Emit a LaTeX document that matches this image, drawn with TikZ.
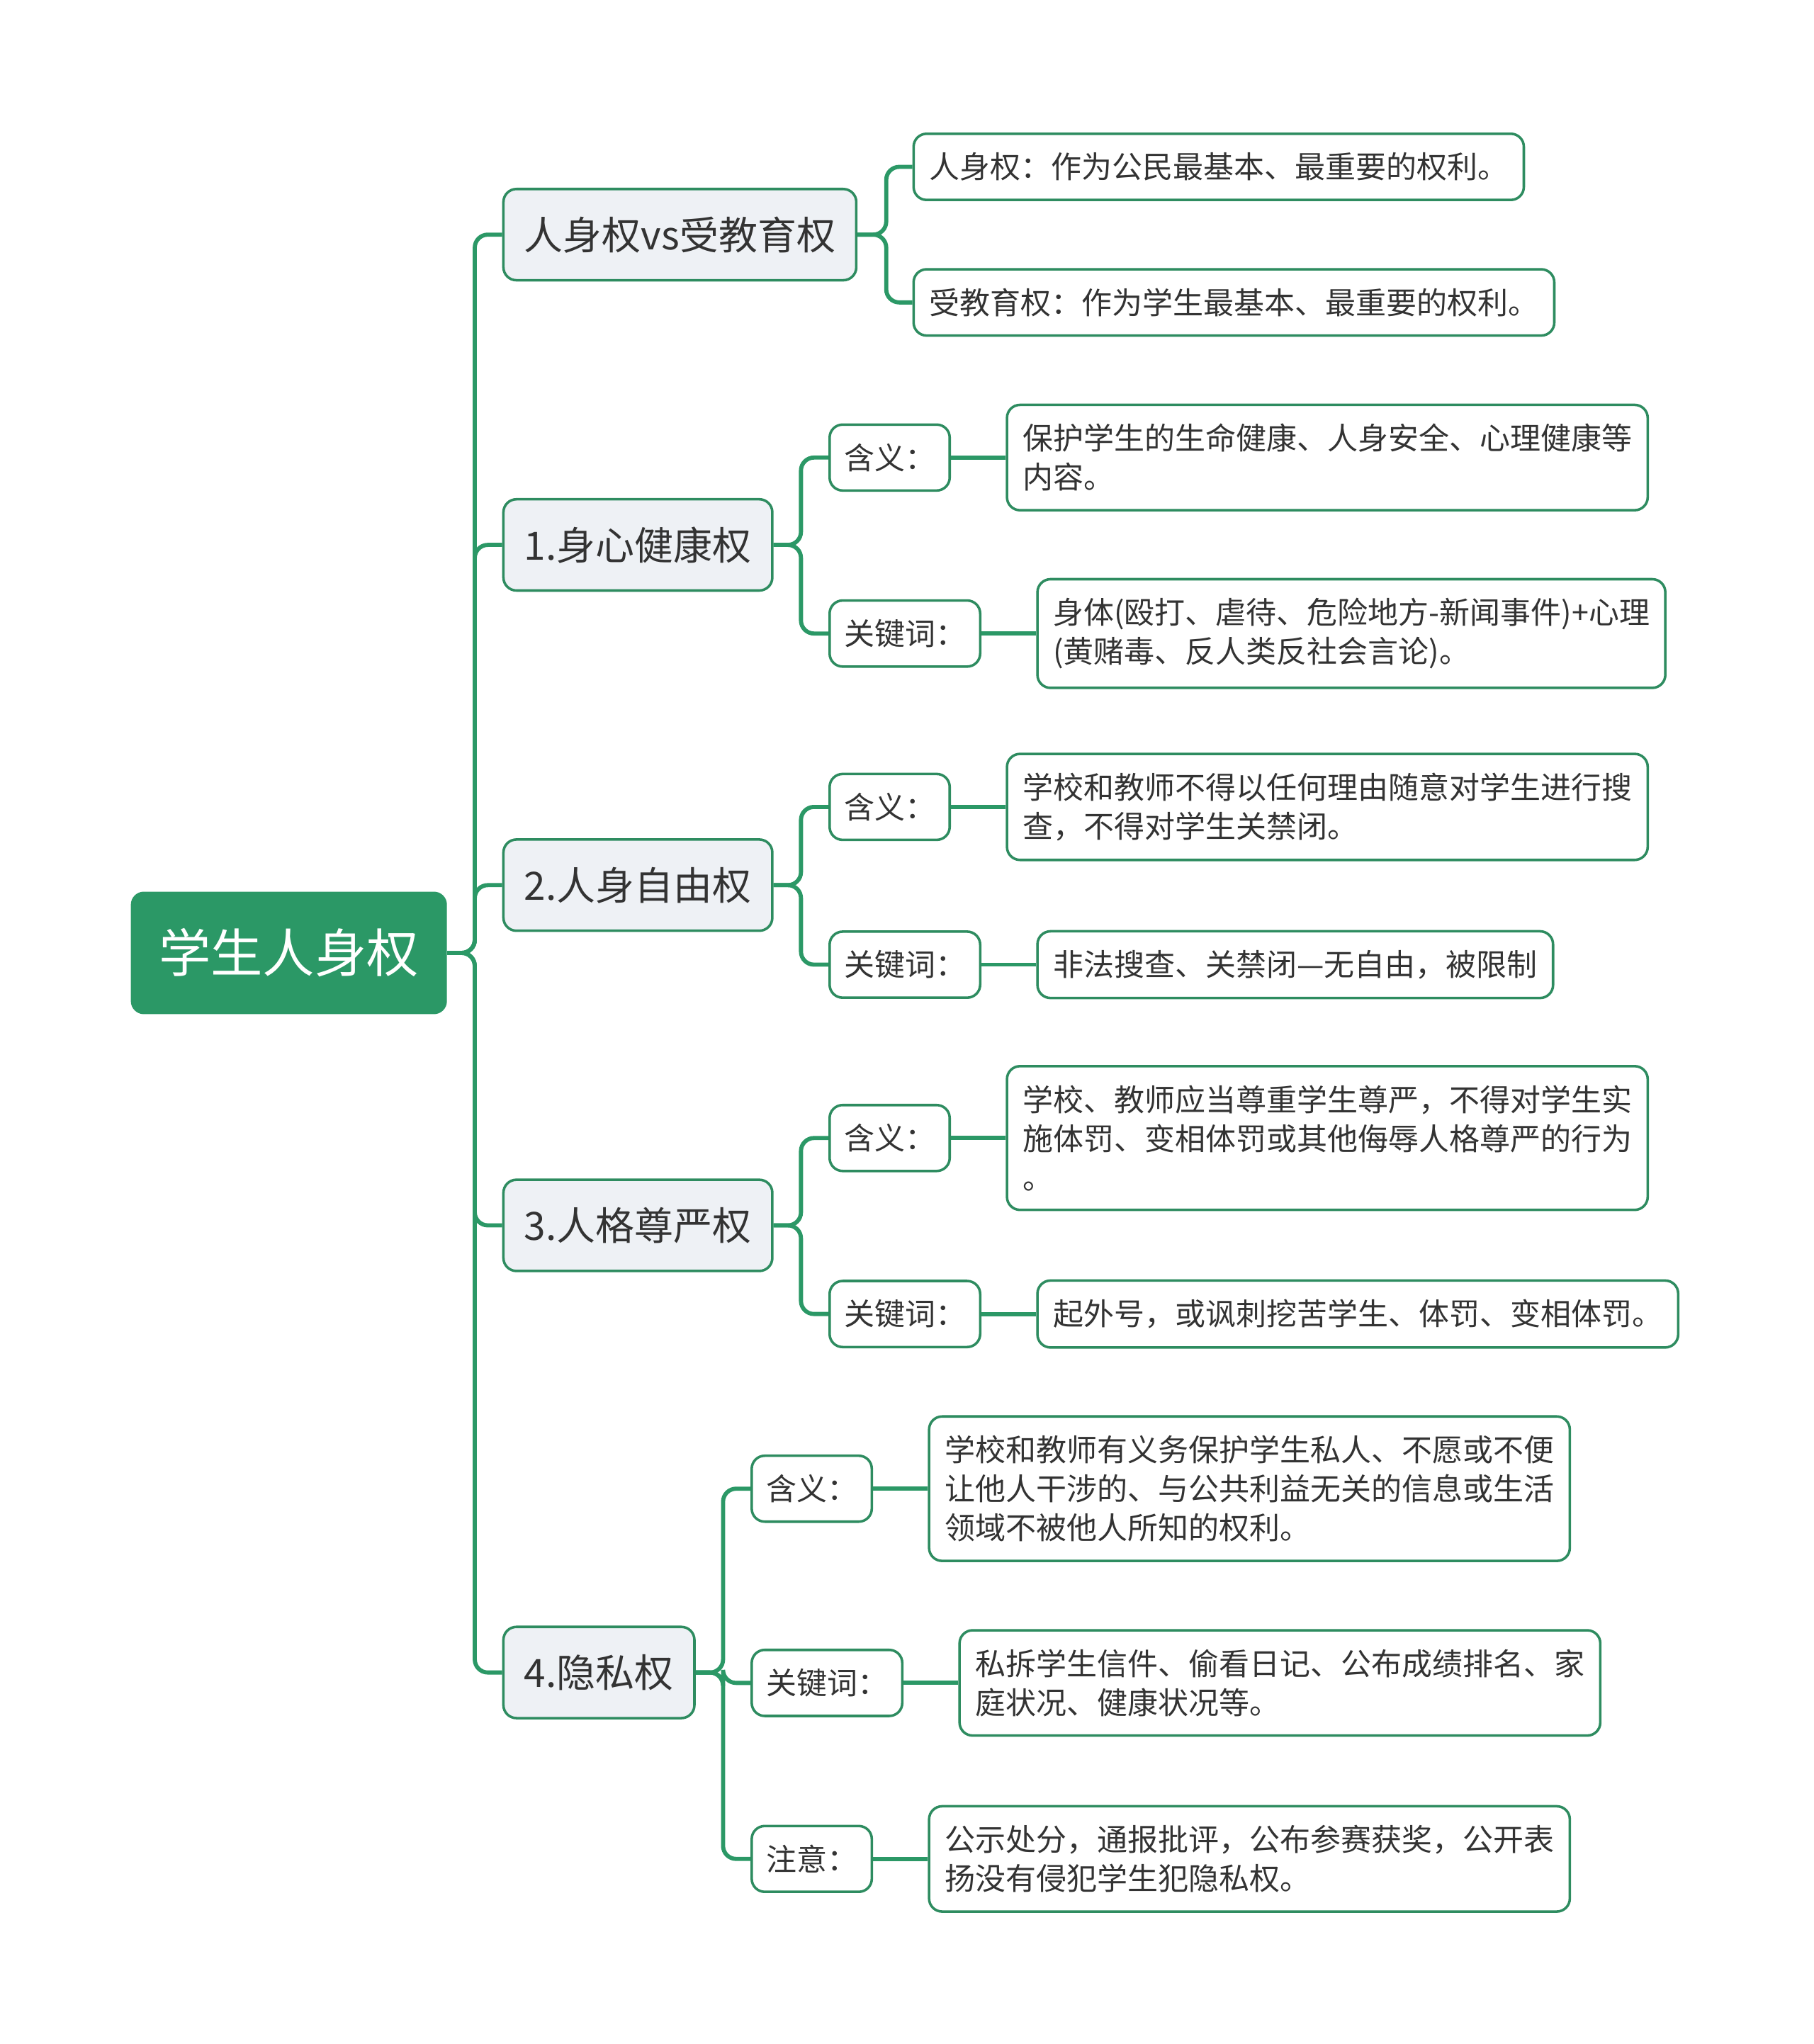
\documentclass[tikz,border=0pt]{standalone}
\usepackage{fontspec}
\setmainfont{Noto Sans CJK SC}
\usepackage{tikz}
\usetikzlibrary{positioning}
\definecolor{mapgreen}{RGB}{43, 152, 102}
\definecolor{mapline}{RGB}{46, 140, 96}
\definecolor{mapgray}{RGB}{238, 241, 245}
\definecolor{maptext}{RGB}{51, 51, 51}
\tikzset{
    link/.style={draw=mapgreen, line width=1.8pt, rounded corners=0.2cm},
    leaf/.style={rectangle, draw=mapline, line width=1.1pt, fill=white, rounded corners=0.2cm, anchor=west, align=left, text=maptext, inner xsep=0.24cm, inner ysep=0.29cm, font=\fontsize{13.3pt}{17.07pt}\selectfont}
}
\begin{document}
\begin{tikzpicture}[
    node distance=0.84cm,
    rootbox/.style={rectangle, fill=mapgreen, rounded corners=0.2cm, text=white, inner xsep=0.43cm, minimum height=1.88cm, font=\fontsize{22.7pt}{27pt}\selectfont},
    topic/.style={rectangle, draw=mapline, line width=1.1pt, fill=mapgray, rounded corners=0.2cm, text=maptext, inner xsep=0.32cm, minimum height=1.4cm, font=\fontsize{17pt}{20pt}\selectfont},
    tag/.style={leaf, inner xsep=0.22cm}
]
    \useasboundingbox (0,0) rectangle (27.82,-31.36);

    % Root
    \node[rootbox, anchor=west] (root) at (2.0,-14.62) {学生人身权};

    % Topics
    \node[topic, right=of root, yshift=11.02cm] (vs) {人身权vs受教育权};
    \node[topic, right=of root, yshift=6.26cm] (health) {1.身心健康权};
    \node[topic, right=of root, yshift=1.04cm] (freedom) {2.人身自由权};
    \node[topic, right=of root, yshift=-4.18cm] (dignity) {3.人格尊严权};
    \node[topic, right=of root, yshift=-11.04cm] (privacy) {4.隐私权};

    \foreach \t in {vs, health, freedom, dignity, privacy}
        \draw[link] (root.east) -- ++(0.42,0) |- (\t.west);

    % 人身权vs受教育权
    \node[leaf, right=of vs, yshift=1.04cm] (vsa) {人身权：作为公民最基本、最重要的权利。};
    \node[leaf, right=of vs, yshift=-1.04cm] (vsb) {受教育权：作为学生最基本、最重要的权利。};
    \draw[link] (vs.east) -- ++(0.44,0) |- (vsa.west);
    \draw[link] (vs.east) -- ++(0.44,0) |- (vsb.west);

    % 1.身心健康权
    \node[tag, right=of health, yshift=1.34cm] (healthmean) {含义：};
    \node[leaf, right=of healthmean] (healthmeantxt) {保护学生的生命健康、人身安全、心理健康等\\内容。};
    \node[tag, right=of health, yshift=-1.36cm] (healthkey) {关键词：};
    \node[leaf, right=of healthkey] (healthkeytxt) {身体(殴打、虐待、危险地方-新闻事件)+心理\\(黄赌毒、反人类反社会言论)。};

    % 2.人身自由权
    \node[tag, right=of freedom, yshift=1.2cm] (freemean) {含义：};
    \node[leaf, right=of freemean] (freemeantxt) {学校和教师不得以任何理由随意对学生进行搜\\查，不得对学生关禁闭。};
    \node[tag, right=of freedom, yshift=-1.22cm] (freekey) {关键词：};
    \node[leaf, right=of freekey] (freekeytxt) {非法搜查、关禁闭—无自由，被限制};

    % 3.人格尊严权
    \node[tag, right=of dignity, yshift=1.34cm] (dignmean) {含义：};
    \node[leaf, right=of dignmean] (dignmeantxt) {学校、教师应当尊重学生尊严，不得对学生实\\施体罚、变相体罚或其他侮辱人格尊严的行为\\。};
    \node[tag, right=of dignity, yshift=-1.36cm] (dignkey) {关键词：};
    \node[leaf, right=of dignkey] (dignkeytxt) {起外号，或讽刺挖苦学生、体罚、变相体罚。};

    % 4.隐私权
    \node[tag, right=of privacy, yshift=2.82cm] (privmean) {含义：};
    \node[leaf, right=of privmean] (privmeantxt) {学校和教师有义务保护学生私人、不愿或不便\\让他人干涉的、与公共利益无关的信息或生活\\领域不被他人所知的权利。};
    \node[tag, right=of privacy, yshift=-0.16cm] (privkey) {关键词：};
    \node[leaf, right=of privkey] (privkeytxt) {私拆学生信件、偷看日记、公布成绩排名、家\\庭状况、健康状况等。};
    \node[tag, right=of privacy, yshift=-2.86cm] (privnote) {注意：};
    \node[leaf, right=of privnote] (privnotetxt) {公示处分，通报批评，公布参赛获奖，公开表\\扬没有侵犯学生犯隐私权。};

    \foreach \p/\c in {health/healthmean, health/healthkey, freedom/freemean, freedom/freekey,
                       dignity/dignmean, dignity/dignkey, privacy/privmean, privacy/privkey, privacy/privnote}
        \draw[link] (\p.east) -- ++(0.42,0) |- (\c.west);

    \foreach \a/\b in {healthmean/healthmeantxt, healthkey/healthkeytxt, freemean/freemeantxt, freekey/freekeytxt,
                       dignmean/dignmeantxt, dignkey/dignkeytxt, privmean/privmeantxt, privkey/privkeytxt, privnote/privnotetxt}
        \draw[link] (\a.east) -- (\b.west);

\end{tikzpicture}
\end{document}
